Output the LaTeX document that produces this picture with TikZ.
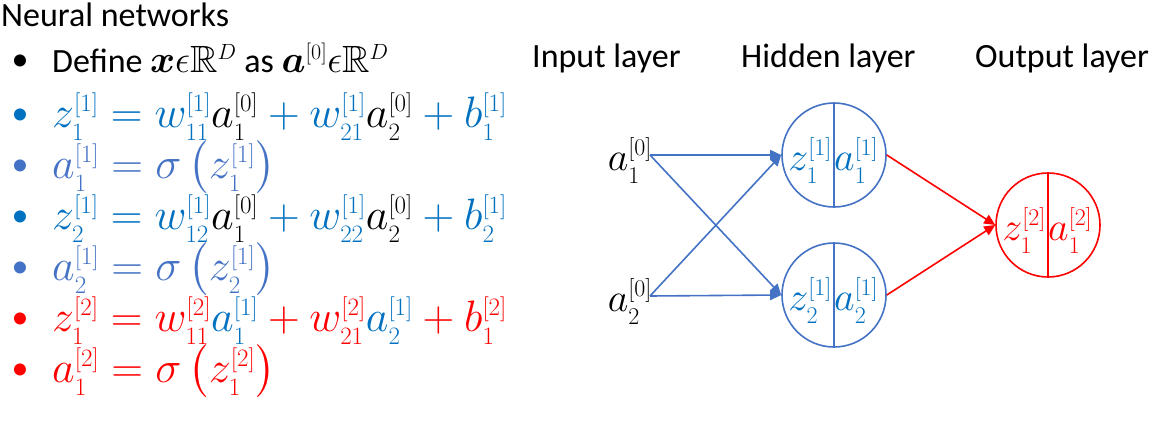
\RequirePackage{fix-cm}
\documentclass[tikz,border=0pt]{standalone}
\usepackage{amsmath,amssymb,bm}
\usepackage[no-math]{fontspec}
\setmainfont{Carlito}
\usetikzlibrary{arrows.meta}
\definecolor{zb}{HTML}{0070C0}
\definecolor{ab}{HTML}{4472C4}
\definecolor{rd}{HTML}{FF0000}
\DeclareMathSizes{44}{44}{25}{18}
\DeclareMathSizes{40}{40}{24}{17}
\DeclareMathSizes{38}{38}{22}{16}
\newcommand\tsup{\fontdimen13\textfont2=0.46\fontdimen6\textfont2
  \fontdimen17\textfont2=0.23\fontdimen6\textfont2
  \fontdimen5\textfont2=0.2\fontdimen6\textfont2\relax}
\begin{document}
\begin{tikzpicture}[x=1pt,y=-1pt,
  txt/.style={inner sep=0pt,font=\fontsize{34}{40}\selectfont},
  eq/.style={inner sep=0pt,anchor=base west,font=\fontsize{44}{50}\selectfont},
  bul/.style={inner sep=0pt,font=\fontsize{34}{40}\selectfont},
  neuron/.style={circle,draw,line width=1.6pt,minimum size=104pt,inner sep=0pt},
  conn/.style={line width=1.6pt,-{Triangle[length=11pt,width=10pt]}},
  lbl/.style={inner sep=0pt,font=\fontsize{40}{46}\selectfont}]
\useasboundingbox (0,0) rectangle (1156,428);
% title
\node[txt,anchor=base west] (title) at (1,27) {Neural networks};
% bullets
\node[bul] (b0) at (20,63) {•};
\node[bul,text=zb] (b1) at (20,117) {•};
\node[bul,text=ab] (b2) at (20,168) {•};
\node[bul,text=zb] (b3) at (20,219) {•};
\node[bul,text=ab] (b4) at (20,270) {•};
\node[bul,text=rd] (b5) at (20,321) {•};
\node[bul,text=rd] (b6) at (20,372) {•};
% lines
\node[txt,anchor=base west] (l0) at (52,73) {Define {\fontsize{38}{44}\selectfont$\tsup\bm{x}\epsilon\mathbb{R}^{D}$} as {\fontsize{38}{44}\selectfont$\tsup\bm{a}^{[0]}\epsilon\mathbb{R}^{D}$}};
\node[eq,text=zb] (l1) at (52,127) {$\tsup z_1^{[1]}=w_{11}^{[1]}{\color{black}a_1^{[0]}}+w_{21}^{[1]}{\color{black}a_2^{[0]}}+b_1^{[1]}$};
\node[eq,text=ab] (l2) at (52,178) {$\tsup a_1^{[1]}=\sigma\left(z_1^{[1]}\right)$};
\node[eq,text=zb] (l3) at (52,229) {$\tsup z_2^{[1]}=w_{12}^{[1]}{\color{black}a_1^{[0]}}+w_{22}^{[1]}{\color{black}a_2^{[0]}}+b_2^{[1]}$};
\node[eq,text=ab] (l4) at (52,280) {$\tsup a_2^{[1]}=\sigma\left(z_2^{[1]}\right)$};
\node[eq,text=rd] (l5) at (52,331) {$\tsup z_1^{[2]}=w_{11}^{[2]}{\color{zb}a_1^{[1]}}+w_{21}^{[2]}{\color{zb}a_2^{[1]}}+b_1^{[2]}$};
\node[eq,text=rd] (l6) at (52,382) {$\tsup a_1^{[2]}=\sigma\left(z_1^{[2]}\right)$};
% headers
\node[txt,anchor=base west] (hin) at (532,67) {Input layer};
\node[txt,anchor=base west] (hhid) at (741,67) {Hidden layer};
\node[txt,anchor=base west] (hout) at (975,67) {Output layer};
% input nodes
\node[lbl,anchor=base east] (x1) at (652,170) {$\tsup a_1^{[0]}$};
\node[lbl,anchor=base east] (x2) at (652,311) {$\tsup a_2^{[0]}$};
\coordinate (x1p) at (650,155);
\coordinate (x2p) at (650,296);
% neurons
\node[neuron,draw=ab] (h1) at (834,155) {};
\node[neuron,draw=ab] (h2) at (834,295) {};
\node[neuron,draw=rd] (o1) at (1048,225) {};
\draw[ab,line width=1.6pt] (h1.north) -- (h1.south);
\draw[ab,line width=1.6pt] (h2.north) -- (h2.south);
\draw[rd,line width=1.6pt] (o1.north) -- (o1.south);
\node[lbl,anchor=base east,text=zb] (z1) at (832,170) {$\tsup z_1^{[1]}$};
\node[lbl,anchor=base west,text=zb] (a1) at (834,170) {$\tsup a_1^{[1]}$};
\node[lbl,anchor=base east,text=zb] (z2) at (832,310) {$\tsup z_2^{[1]}$};
\node[lbl,anchor=base west,text=zb] (a2) at (834,310) {$\tsup a_2^{[1]}$};
\node[lbl,anchor=base east,text=rd] (z3) at (1046,240) {$\tsup z_1^{[2]}$};
\node[lbl,anchor=base west,text=rd] (a3) at (1048,240) {$\tsup a_1^{[2]}$};
% connectors
\draw[conn,ab] (x1p) -- (h1.west);
\draw[conn,ab] (x1p) -- (h2.west);
\draw[conn,ab] (x2p) -- (h1.west);
\draw[conn,ab] (x2p) -- (h2.west);
\draw[conn,rd] (h1.east) -- (o1.west);
\draw[conn,rd] (h2.east) -- (o1.west);
\end{tikzpicture}
\end{document}
